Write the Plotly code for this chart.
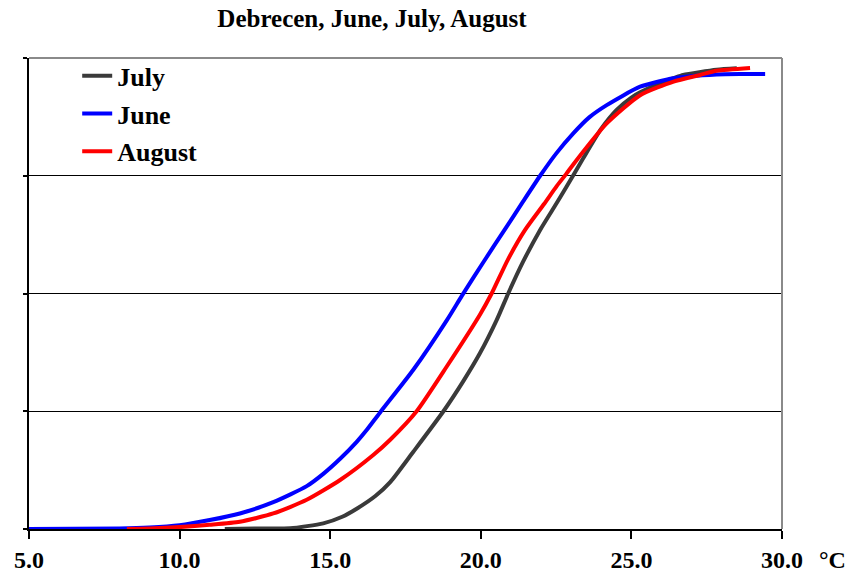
import plotly.graph_objects as go

# July (black)
july_x = [11.5, 12.5, 13.67, 14.77, 15.4, 15.88, 16.5, 17.0, 17.76, 18.76, 19.42, 19.97, 20.53,
          20.91, 21.4, 21.97, 22.5, 22.85, 23.4, 24.0, 24.51, 25.0, 25.29, 26.0, 26.4, 26.72,
          27.83, 28.5]
july_y = [0.0, 0.001, 0.0015, 0.012, 0.026, 0.043, 0.07, 0.1, 0.164, 0.25, 0.314, 0.373, 0.444,
          0.5, 0.567, 0.635, 0.69, 0.727, 0.787, 0.85, 0.89, 0.916, 0.927, 0.948, 0.957, 0.964,
          0.975, 0.978]

# June (blue)
june_x = [5.0, 8.0, 9.0, 10.0, 11.0, 12.0, 13.11, 14.22, 14.77, 15.33, 15.88, 16.21, 16.65,
          17.76, 18.87, 19.37, 20.1, 20.86, 21.4, 21.97, 22.5, 23.07, 23.6, 24.18, 25.29, 26.4,
          27.83, 28.6, 29.44]
june_y = [0.0, 0.001, 0.003, 0.008, 0.019, 0.033, 0.057, 0.091, 0.117, 0.149, 0.185, 0.21, 0.247,
          0.338, 0.443, 0.495, 0.568, 0.642, 0.695, 0.75, 0.797, 0.84, 0.874, 0.9, 0.939, 0.957,
          0.965, 0.966, 0.966]

# August (red)
august_x = [8.25, 9.0, 10.0, 11.0, 12.0, 13.11, 14.22, 15.33, 16.43, 17.0, 17.87, 18.87,
            19.97, 20.36, 20.9, 21.47, 22.1, 22.52, 22.85, 23.07, 24.18, 25.29, 26.4, 27.28,
            27.83, 28.94]
august_y = [0.0, 0.001, 0.004, 0.009, 0.0155, 0.033, 0.062, 0.104, 0.157, 0.19, 0.25, 0.345,
            0.455, 0.5, 0.572, 0.635, 0.69, 0.728, 0.755, 0.774, 0.861, 0.921, 0.95, 0.964,
            0.973, 0.979]

x_ticks = [5, 10, 15, 20, 25, 30]
x_tick_labels = ["5.0", "10.0", "15.0", "20.0", "25.0", "30.0"]
y_ticks = [0, 0.25, 0.5, 0.75, 1.0]

FONT = "Liberation Serif"

fig = go.Figure()
series = [
    ("July", july_x, july_y, "#3a3a3a"),
    ("June", june_x, june_y, "#0000ff"),
    ("August", august_x, august_y, "#ff0000"),
]
for name, xs, ys, col in series:
    fig.add_trace(go.Scatter(
        x=xs, y=ys, name="<b>%s</b>" % name, mode="lines", legendgroup=name,
        line=dict(color=col, width=4, shape="spline", smoothing=0.6),
    ))

fig.update_layout(
    width=848, height=574,
    margin=dict(l=29, r=66, t=58, b=45),
    paper_bgcolor="white", plot_bgcolor="white",
    title=dict(text="<b>Debrecen, June, July, August</b>", x=372 / 848, xanchor="center",
               y=1 - 18 / 574, yanchor="middle", yref="container",
               font=dict(family=FONT, size=25, color="black")),
    showlegend=True,
    legend=dict(x=0.064, y=1.012, xanchor="left", yanchor="top",
                bgcolor="rgba(0,0,0,0)", borderwidth=0, tracegroupgap=1,
                font=dict(family=FONT, size=26, color="black")),
    font=dict(family=FONT, color="black"),
)

fig.update_xaxes(
    range=[5, 30], tickvals=x_ticks, ticktext=["<b>%s</b>" % t for t in x_tick_labels],
    showgrid=False, zeroline=False, showline=True, linecolor="black", linewidth=1.5,
    ticks="outside", ticklen=8, tickwidth=1.5, tickcolor="black", automargin=False,
    tickfont=dict(family=FONT, size=24, color="black"),
)
fig.update_yaxes(
    range=[0, 1], tickvals=y_ticks, showticklabels=False, automargin=False,
    showgrid=True, gridcolor="black", gridwidth=1, zeroline=False,
    showline=True, linecolor="black", linewidth=1.5,
    ticks="outside", ticklen=4, tickwidth=1.5, tickcolor="black",
)

# grey top and right frame
fig.add_shape(type="line", xref="paper", yref="paper", x0=0, x1=1, y0=1, y1=1,
              line=dict(color="#8a8a8a", width=2), layer="above")
fig.add_shape(type="line", xref="paper", yref="paper", x0=1, x1=1, y0=0, y1=1,
              line=dict(color="#8a8a8a", width=2), layer="above")

fig.add_annotation(text="<b>°C</b>", xref="paper", yref="paper", x=(817 - 29) / 753,
                   y=-0.066, xanchor="left", yanchor="middle", showarrow=False,
                   font=dict(family=FONT, size=24, color="black"))

fig.write_html("out.html")
